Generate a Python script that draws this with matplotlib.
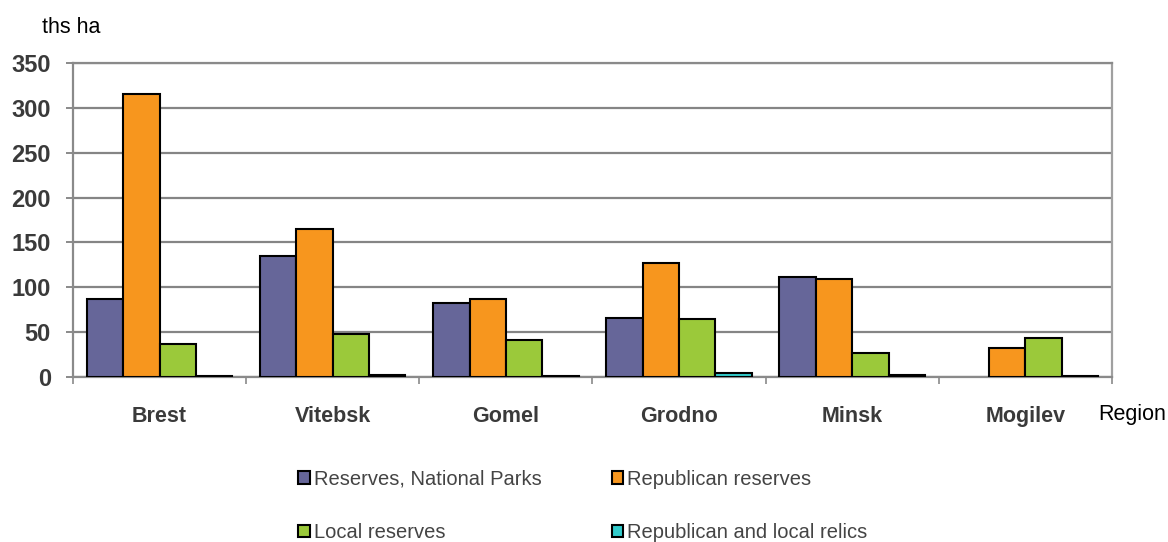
import numpy as np
import matplotlib.pyplot as plt
from matplotlib.patches import Patch

# protected areas by region, thousand hectares
regions = ["Brest", "Vitebsk", "Gomel", "Grodno", "Minsk", "Mogilev"]
national_parks = [87, 135, 83, 66, 111, 0]
republican = [315, 165, 87, 127, 109, 32]
local = [37, 48, 41, 65, 27, 44]
relics = [1, 2, 1, 4, 2, 1]

series = [
    ("Reserves, National Parks", national_parks, "#666699"),
    ("Republican reserves", republican, "#F7961E"),
    ("Local reserves", local, "#9BC93A"),
    ("Republican and local relics", relics, "#33CCCC"),
]

plt.rcParams["font.family"] = ["Liberation Sans", "DejaVu Sans"]

fig = plt.figure(figsize=(11.68, 5.42), dpi=100)
ax = fig.add_axes([0.0625, 0.3044, 0.8895, 0.5794])

x = np.arange(len(regions))
w = 0.21
handles = []
for i, (name, vals, color) in enumerate(series):
    pos = x + (i - 1.5) * w
    edges = ["black" if v > 0 else "none" for v in vals]
    ax.bar(pos, vals, width=w, color=color, edgecolor=edges, linewidth=1.5, zorder=3)
    handles.append(Patch(facecolor=color, edgecolor="black", linewidth=1.5, label=name))

ax.set_xlim(-0.5, len(regions) - 0.5)
ax.set_ylim(0, 350)
ax.set_yticks(np.arange(0, 351, 50))
ax.set_xticks(np.arange(len(regions) + 1) - 0.5, minor=False)
ax.set_xticklabels([])
ax.set_xticks(x, minor=True)
ax.set_xticklabels(regions, minor=True)

ax.grid(axis="y", color="#858585", linewidth=1.6, zorder=0)
for side in ["left", "bottom", "top", "right"]:
    ax.spines[side].set_color("#8a8a8a")
    ax.spines[side].set_linewidth(1.6)
ax.spines["right"].set_color("#a0a0a0")

ax.tick_params(axis="y", length=5, width=1.4, color="#8a8a8a", pad=11,
               labelsize=17, labelcolor="#3a3a3a")
ax.tick_params(axis="x", which="major", length=5, width=1.2, color="#8a8a8a")
ax.tick_params(axis="x", which="minor", length=0, pad=21,
               labelsize=15.5, labelcolor="#3a3a3a")
for lab in ax.get_yticklabels() + ax.get_xticklabels(minor=True):
    lab.set_fontweight("bold")

fig.text(0.036, 0.95, "ths ha", fontsize=15.5, color="black", va="center")
fig.text(0.940, 0.236, "Region", fontsize=15.5, color="black", va="center")

# legend in two columns: first row parks / republican, second row local / relics
order = [handles[0], handles[2], handles[1], handles[3]]
fig.legend(handles=order, ncol=2, loc="center", bbox_to_anchor=(0.499, 0.067),
           frameon=False, fontsize=14.5, handlelength=0.55, handleheight=0.55,
           handletextpad=0.2, columnspacing=3.5, labelspacing=1.7,
           labelcolor="#444444")

fig.savefig("out.png", dpi=100)
